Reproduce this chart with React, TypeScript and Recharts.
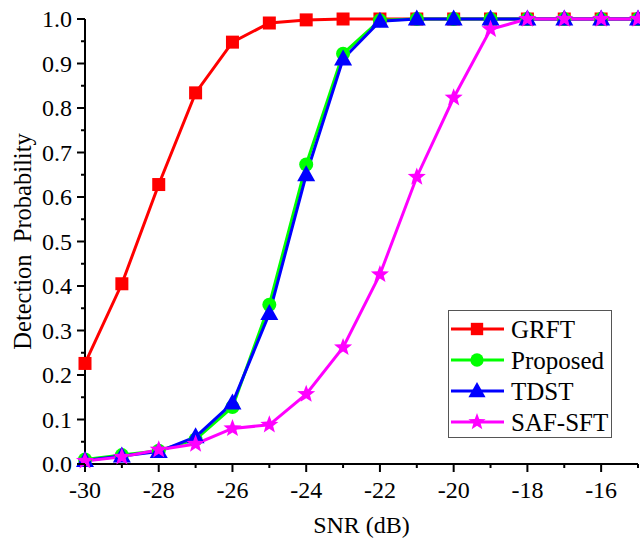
import React from 'react';
import { LineChart, Line, XAxis, YAxis } from 'recharts';

// ---- data ----
const snrValues = [-30, -29, -28, -27, -26, -25, -24, -23, -22, -21, -20, -19, -18, -17, -16, -15];
const grft = [0.226, 0.405, 0.628, 0.834, 0.948, 0.991, 0.998, 1, 1, 1, 1, 1, 1, 1, 1, 1];
const proposed = [0.01, 0.02, 0.03, 0.055, 0.128, 0.358, 0.673, 0.922, 0.997, 1, 1, 1, 1, 1, 1, 1];
const tdst = [0.008, 0.018, 0.028, 0.061, 0.137, 0.338, 0.65, 0.91, 0.995, 1, 1, 1, 1, 1, 1, 1];
const safSft = [0.007, 0.016, 0.032, 0.045, 0.08, 0.088, 0.157, 0.262, 0.426, 0.645, 0.823, 0.977, 1, 1, 1, 1];

const seriesNames = ['GRFT', 'Proposed', 'TDST', 'SAF-SFT'];
const xMajorTicks = [-30, -28, -26, -24, -22, -20, -18, -16];
const xMinorTicks = [-29, -27, -25, -23, -21, -19, -17, -15];
const yMajorTicks = [0.0, 0.1, 0.2, 0.3, 0.4, 0.5, 0.6, 0.7, 0.8, 0.9, 1.0];
const yMinorTicks = [0.05, 0.15, 0.25, 0.35, 0.45, 0.55, 0.65, 0.75, 0.85, 0.95];

const data = snrValues.map((s, i) => ({
  snr: s,
  grft: grft[i],
  proposed: proposed[i],
  tdst: tdst[i],
  saf: safSft[i],
}));

const xTicks = [...xMajorTicks, ...xMinorTicks].sort((a, b) => a - b);
const yTicks = [...yMajorTicks, ...yMinorTicks].sort((a, b) => a - b);

const FONT = 'Liberation Serif';
const FONT_CSS = '#root svg text, #root svg tspan, svg text.serif-txt { font-family: "Liberation Serif" !important; }';
const RED = '#FF0000';
const GREEN = '#00FF00';
const BLUE = '#0000FF';
const MAGENTA = '#FF00FF';

const isMajorY = (v: number) => Math.abs(v * 10 - Math.round(v * 10)) < 1e-6;
const isMajorX = (v: number) => Math.abs(Math.round(v)) % 2 === 0;

// ---- ticks ----
const LeftTick = (p: any) => {
  const { x, y, payload } = p;
  const major = isMajorY(payload.value);
  return (
    <g>
      <line x1={x} x2={x - (major ? 8 : 4)} y1={y} y2={y} stroke="#000" strokeWidth={2} />
      {major && (
        <text className="serif-txt" x={x - 13} y={y} dy="0.35em" textAnchor="end" fontFamily={FONT} fontSize={24} fill="#000">
          {Number(payload.value).toFixed(1)}
        </text>
      )}
    </g>
  );
};
const RightTick = (p: any) => {
  const { x, y, payload } = p;
  const major = isMajorY(payload.value);
  return <line x1={x} x2={x - (major ? 9 : 5)} y1={y} y2={y} stroke="#000" strokeWidth={2} />;
};
const BottomTick = (p: any) => {
  const { x, y, payload } = p;
  const major = isMajorX(payload.value);
  return (
    <g>
      <line x1={x} x2={x} y1={y} y2={y + (major ? 8 : 4)} stroke="#000" strokeWidth={2} />
      {major && (
        <text className="serif-txt" x={x} y={y + 34} textAnchor="middle" fontFamily={FONT} fontSize={24} fill="#000">
          {payload.value}
        </text>
      )}
    </g>
  );
};
const TopTick = (p: any) => {
  const { x, y, payload } = p;
  const major = isMajorX(payload.value);
  return <line x1={x} x2={x} y1={y} y2={y + (major ? 8 : 4)} stroke="#000" strokeWidth={2} />;
};

// ---- titles ----
const XTitle = (p: any) => {
  const vb = p.viewBox || { x: 85, y: 464, width: 553, height: 78 };
  return (
    <text className="serif-txt" x={vb.x + vb.width / 2} y={vb.y + vb.height - 9} textAnchor="middle" fontFamily={FONT} fontSize={24} fill="#000">
      SNR (dB)
    </text>
  );
};
const YTitle = (p: any) => {
  const vb = p.viewBox || { x: 0, y: 19, width: 85, height: 445 };
  const cx = vb.x + 22;
  const cy = vb.y + vb.height / 2;
  return (
    <text
      className="serif-txt"
      x={cx}
      y={cy}
      dy="0.35em"
      transform={`rotate(-90, ${cx}, ${cy})`}
      textAnchor="middle"
      fontFamily={FONT}
      fontSize={24.5}
      fill="#000"
      style={{ whiteSpace: 'pre' }}
    >
      {'Detection  Probability'}
    </text>
  );
};

// ---- markers ----
const Square = ({ cx, cy, color, s = 1 }: any) => (
  <rect x={cx - 6.5 * s} y={cy - 6.5 * s} width={13 * s} height={13 * s} fill={color} />
);
const Circle = ({ cx, cy, color, s = 1 }: any) => <circle cx={cx} cy={cy} r={7 * s} fill={color} />;
const Triangle = ({ cx, cy, color, s = 1 }: any) => (
  <polygon points={`${cx},${cy - 9.5 * s} ${cx - 9 * s},${cy + 6.5 * s} ${cx + 9 * s},${cy + 6.5 * s}`} fill={color} />
);
const Star = ({ cx, cy, color, s = 1 }: any) => {
  const pts: string[] = [];
  for (let i = 0; i < 10; i++) {
    const r = (i % 2 === 0 ? 9.5 : 4) * s;
    const a = -Math.PI / 2 + (i * Math.PI) / 5;
    pts.push(`${cx + r * Math.cos(a)},${cy + r * Math.sin(a)}`);
  }
  return <polygon points={pts.join(' ')} fill={color} />;
};

const mkDot = (Shape: any, color: string) => (p: any) => {
  if (p.cx == null || p.cy == null) return <g key={`e-${p.index}`} />;
  return <Shape key={`d-${p.index}`} cx={p.cx} cy={p.cy} color={color} />;
};

const legendItems = [
  { name: seriesNames[0], color: RED, Shape: Square },
  { name: seriesNames[1], color: GREEN, Shape: Circle },
  { name: seriesNames[2], color: BLUE, Shape: Triangle },
  { name: seriesNames[3], color: MAGENTA, Shape: Star },
];

const Legend = () => (
  <svg width={640} height={542} style={{ position: 'absolute', left: 0, top: 0, pointerEvents: 'none' }}>
    <rect x={448.5} y={310.5} width={163} height={127} fill="#fff" stroke="#555" strokeWidth={1} />
    {legendItems.map((it, i) => {
      const y = 329 + i * 31;
      return (
        <g key={it.name}>
          <line x1={451} x2={504} y1={y} y2={y} stroke={it.color} strokeWidth={3} />
          <it.Shape cx={477} cy={y} color={it.color} s={0.95} />
          <text className="serif-txt" x={511} y={y} dy="0.35em" fontFamily={FONT} fontSize={25} fill="#000">
            {it.name}
          </text>
        </g>
      );
    })}
  </svg>
);

export default function App() {
  return (
    <div style={{ position: 'absolute', left: 0, top: 0, width: 640, height: 542, background: '#fff' }}>
      <style>{FONT_CSS}</style>
      <LineChart width={640} height={542} data={data} margin={{ top: 19, right: 2, bottom: 0, left: 0 }}>
        <XAxis
          dataKey="snr"
          type="number"
          domain={[-30, -15]}
          ticks={xTicks}
          interval={0}
          height={78}
          tickSize={0}
          tickMargin={0}
          tickLine={false}
          tick={<BottomTick />}
          axisLine={{ stroke: '#000', strokeWidth: 2 }}
          label={<XTitle />}
        />
        <XAxis
          xAxisId="top"
          dataKey="snr"
          type="number"
          orientation="top"
          mirror
          domain={[-30, -15]}
          ticks={xTicks}
          interval={0}
          height={0}
          tickSize={0}
          tickMargin={0}
          tickLine={false}
          tick={<TopTick />}
          axisLine={{ stroke: '#000', strokeWidth: 2 }}
        />
        <YAxis
          type="number"
          domain={[0, 1]}
          ticks={yTicks}
          interval={0}
          width={85}
          tickSize={0}
          tickMargin={0}
          tickLine={false}
          tick={<LeftTick />}
          axisLine={{ stroke: '#000', strokeWidth: 2 }}
          label={<YTitle />}
        />
        <YAxis
          yAxisId="right"
          type="number"
          orientation="right"
          mirror
          domain={[0, 1]}
          ticks={yTicks}
          interval={0}
          width={0}
          tickSize={0}
          tickMargin={0}
          tickLine={false}
          tick={<RightTick />}
          axisLine={{ stroke: '#000', strokeWidth: 2 }}
        />
        <Line dataKey="grft" name={seriesNames[0]} stroke={RED} strokeWidth={3} isAnimationActive={false} dot={mkDot(Square, RED)} activeDot={false} />
        <Line dataKey="proposed" name={seriesNames[1]} stroke={GREEN} strokeWidth={3} isAnimationActive={false} dot={mkDot(Circle, GREEN)} activeDot={false} />
        <Line dataKey="tdst" name={seriesNames[2]} stroke={BLUE} strokeWidth={3} isAnimationActive={false} dot={mkDot(Triangle, BLUE)} activeDot={false} />
        <Line dataKey="saf" name={seriesNames[3]} stroke={MAGENTA} strokeWidth={3} isAnimationActive={false} dot={mkDot(Star, MAGENTA)} activeDot={false} />
      </LineChart>
      <Legend />
    </div>
  );
}
